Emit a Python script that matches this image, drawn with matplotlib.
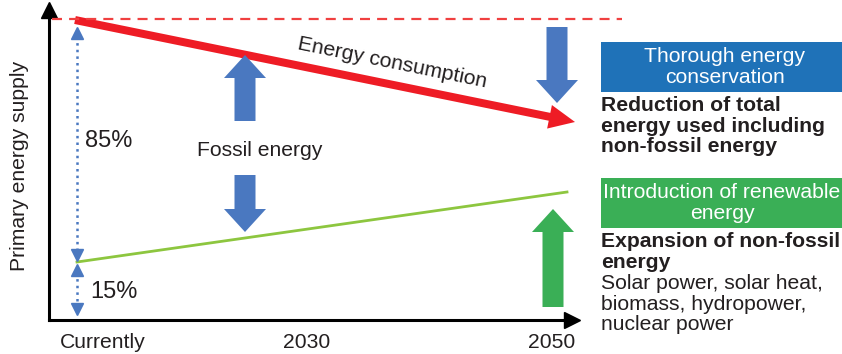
import matplotlib
matplotlib.use('Agg')
from matplotlib import pyplot as plt
from matplotlib.patches import FancyArrow, Rectangle

plt.rcParams['font.family'] = ['Liberation Sans', 'DejaVu Sans']

# diagram in pixel-like units (x to the right, y downward)
periods = ['Currently', '2030', '2050']
period_x = [103, 307, 552]

consumption_x = [75, 575]     # total energy consumption line
consumption_y = [20, 122]
nonfossil_x = [77, 567]       # non-fossil share line
nonfossil_y = [262, 192]
baseline_y = 19               # current level (dashed)

share_labels = ['85%', '15%']
share_y = [141, 292]

blue = '#4a78c0'
red = '#ee1c25'
green_line = '#8dc63f'
green = '#3aaf56'
dark = '#231f20'
fs = 15.2
ls = 1.08

fig = plt.figure(figsize=(8.42, 3.54), dpi=100)
ax = fig.add_axes([0, 0, 1, 1])
ax.set_xlim(0, 842)
ax.set_ylim(354, 0)
ax.axis('off')

# axes with arrowheads
ax.plot([49, 49], [320, 12], color='black', lw=2.2)
ax.plot([49, 570], [320, 320], color='black', lw=2.2)
ax.plot(49, 10, marker='^', color='black', ms=11)
ax.plot(572, 320, marker='>', color='black', ms=11)
ax.text(20, 166, 'Primary energy supply', rotation=90, ha='center', va='center',
        fontsize=fs, color=dark)
for x, lab in zip(period_x, periods):
    ax.text(x, 343, lab, ha='center', va='center', fontsize=fs, color=dark)

# current level dashed line
ax.plot([52, 622], [baseline_y, baseline_y], color='#f04040', lw=1.6,
        dashes=(4.5, 3.2))

# energy consumption arrow
dx = consumption_x[1] - consumption_x[0]
dy = consumption_y[1] - consumption_y[0]
ax.add_patch(FancyArrow(consumption_x[0], consumption_y[0], dx, dy, width=8,
                        head_width=24, head_length=26, length_includes_head=True,
                        color=red, lw=0))
ax.text(392, 63, 'Energy consumption', rotation=-11.5, ha='center', va='center',
        fontsize=fs, color=dark, rotation_mode='anchor')

# non-fossil line
ax.plot(nonfossil_x, nonfossil_y, color=green_line, lw=2)

# share brackets
ax.plot([77, 77], [36, 252], color=blue, lw=1.8, linestyle=':')
ax.plot(77, 33, marker='^', color=blue, ms=8)
ax.plot(77, 255, marker='v', color=blue, ms=8)
ax.plot([77, 77], [272, 306], color=blue, lw=1.8, linestyle=':')
ax.plot(77, 270, marker='^', color=blue, ms=8)
ax.plot(77, 309, marker='v', color=blue, ms=8)
ax.text(85, share_y[0], share_labels[0], ha='left', va='center', fontsize=17, color=dark)
ax.text(90, share_y[1], share_labels[1], ha='left', va='center', fontsize=17, color=dark)

# block arrows
def block(x, y0, y1, color):
    ax.add_patch(FancyArrow(x, y0, 0, y1 - y0, width=21, head_width=42,
                            head_length=23, length_includes_head=True,
                            color=color, lw=0))

block(245, 121, 55, blue)
block(245, 175, 232, blue)
block(557, 27, 103, blue)
block(553, 307, 209, green)
ax.text(260, 150, 'Fossil energy', ha='center', va='center', fontsize=fs, color=dark)

# right side boxes
ax.add_patch(Rectangle((601, 42), 245, 50, color='#1f72b8', lw=0))
ax.text(725, 67, 'Thorough energy\nconservation', ha='center', va='center',
        fontsize=fs, color='white', linespacing=ls)
ax.text(601, 126, 'Reduction of total\nenergy used including\nnon-fossil energy',
        ha='left', va='center', fontsize=fs, fontweight='bold', color=dark,
        linespacing=ls)

ax.add_patch(Rectangle((601, 178), 245, 50, color=green, lw=0))
ax.text(722, 203, 'Introduction of renewable\nenergy', ha='center', va='center',
        fontsize=fs, color='white', linespacing=ls)
ax.text(601, 252, 'Expansion of non-fossil\nenergy', ha='left', va='center',
        fontsize=fs, fontweight='bold', color=dark, linespacing=ls)
ax.text(601, 304, 'Solar power, solar heat,\nbiomass, hydropower,\nnuclear power',
        ha='left', va='center', fontsize=fs, color=dark, linespacing=ls)

fig.savefig('out.png', dpi=100)
